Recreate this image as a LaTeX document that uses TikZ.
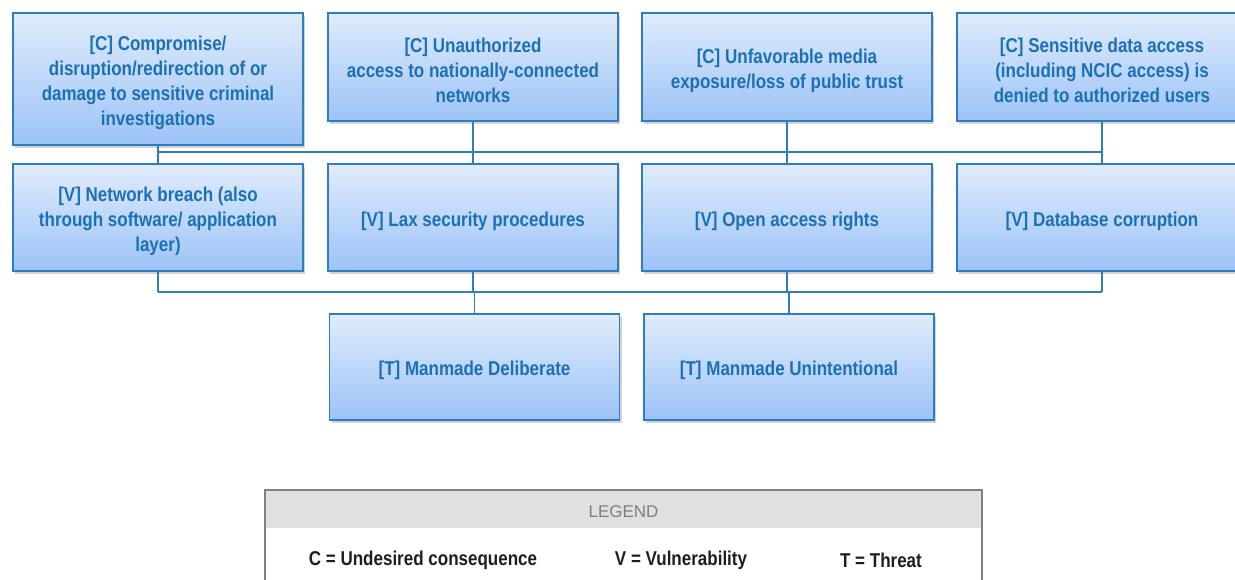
\documentclass[tikz,border=0pt]{standalone}
\usepackage{fontspec}
\setmainfont{Liberation Sans}
\newfontfamily\narrowfont[FakeStretch=0.85]{Liberation Sans}
\usetikzlibrary{shadows,calc}
\definecolor{boxtop}{RGB}{224,236,252}
\definecolor{boxbot}{RGB}{156,195,247}
\definecolor{boxline}{RGB}{46,125,190}
\definecolor{txtblue}{RGB}{28,112,182}
\definecolor{legline}{RGB}{128,128,128}
\definecolor{leghead}{RGB}{224,224,226}
\definecolor{legtxt}{RGB}{30,30,30}
\tikzset{
  x=1pt,y=1pt,
  riskbox/.style={draw=boxline, line width=1.4pt, top color=boxtop, bottom color=boxbot,
    minimum width=290pt, inner sep=0pt,
    drop shadow={opacity=0.35, shadow xshift=2pt, shadow yshift=-3pt}},
  rtext/.style={yshift=-3.5pt, align=center, text=txtblue, inner sep=0pt,
    font=\narrowfont\fontsize{20}{25}\selectfont\bfseries},
  conn/.style={draw=boxline, line width=1.1pt},
  legtext/.style={font=\narrowfont\fontsize{20}{22}\selectfont\bfseries, text=legtxt}
}
\begin{document}
\begin{tikzpicture}
\useasboundingbox (0,0) rectangle (1235,-579);
% top row
\node[riskbox, minimum height=132pt, label={[rtext]center:{[C] Compromise/\\disruption/redirection of or\\damage to sensitive criminal\\investigations}}] (c1) at (158,-79) {};
\node[riskbox, minimum height=108pt, label={[rtext]center:{[C] Unauthorized\\access to nationally-connected\\networks}}] (c2) at (473,-67) {};
\node[riskbox, minimum height=108pt, label={[rtext]center:{[C] Unfavorable media\\exposure/loss of public trust}}] (c3) at (787,-67) {};
\node[riskbox, minimum height=108pt, label={[rtext]center:{[C] Sensitive data access\\(including NCIC access) is\\denied to authorized users}}] (c4) at (1102,-67) {};
% second row
\node[riskbox, minimum height=107pt, label={[rtext]center:{[V] Network breach (also\\through software/ application\\layer)}}] (v1) at (158,-217.5) {};
\node[riskbox, minimum height=107pt, label={[rtext]center:{[V] Lax security procedures}}] (v2) at (473,-217.5) {};
\node[riskbox, minimum height=107pt, label={[rtext]center:{[V] Open access rights}}] (v3) at (787,-217.5) {};
\node[riskbox, minimum height=107pt, label={[rtext]center:{[V] Database corruption}}] (v4) at (1102,-217.5) {};
% third row
\node[riskbox, minimum height=106pt, label={[rtext]center:{[T] Manmade Deliberate}}] (t1) at (474.5,-367) {};
\node[riskbox, minimum height=106pt, label={[rtext]center:{[T] Manmade Unintentional}}] (t2) at (789,-367) {};
% buses
\coordinate (bus1) at (0,-152);
\coordinate (bus2) at (0,-292);
\draw[conn] (c1.south) -- (v1.north);
\draw[conn] (c2.south) -- (v2.north);
\draw[conn] (c3.south) -- (v3.north);
\draw[conn] (c4.south) -- (v4.north);
\draw[conn] (c1.south |- bus1) -- (c4.south |- bus1);
\draw[conn] (v1.south) -- (v1.south |- bus2);
\draw[conn] (v2.south) -- (v2.south |- bus2);
\draw[conn] (v3.south) -- (v3.south |- bus2);
\draw[conn] (v4.south) -- (v4.south |- bus2);
\draw[conn] (v1.south |- bus2) -- (v4.south |- bus2);
\draw[conn] (t1.north |- bus2) -- (t1.north);
\draw[conn] (t2.north |- bus2) -- (t2.north);
% legend
\fill[leghead] (266,-491) rectangle (981,-528);
\draw[legline, line width=2pt] (265,-590) -- (265,-490) -- (982,-490) -- (982,-590);
\node[font=\fontsize{17}{20}\selectfont, text=legline] (legend) at (623.5,-512) {LEGEND};
\node[legtext] (lc) at (423,-560) {C = Undesired consequence};
\node[legtext] (lv) at (681,-560) {V = Vulnerability};
\node[legtext] (lt) at (881,-560) {T = Threat};
\end{tikzpicture}
\end{document}
